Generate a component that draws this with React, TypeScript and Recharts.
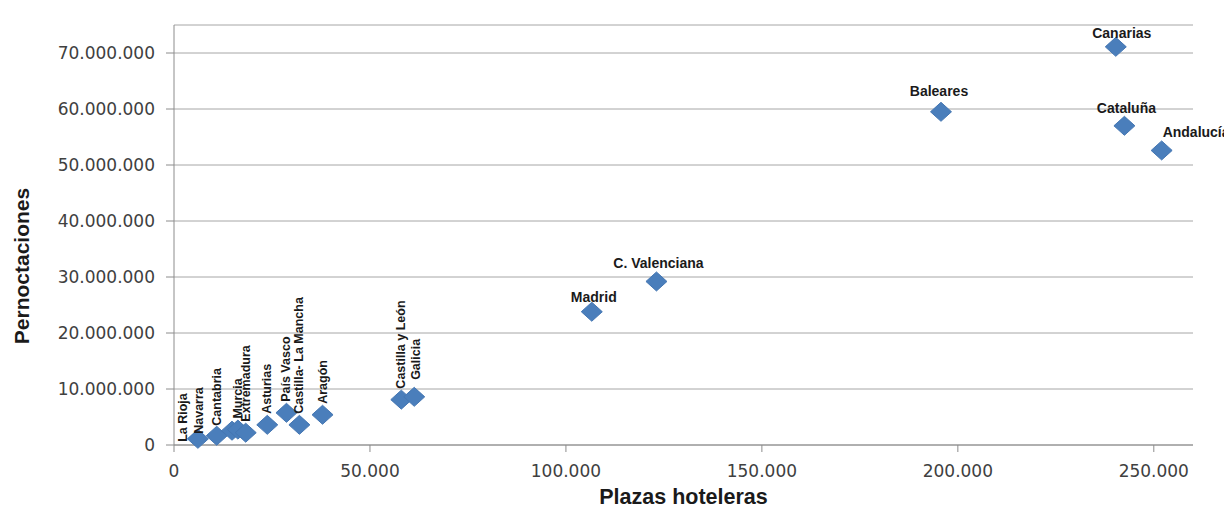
import { CartesianGrid, Scatter, ScatterChart, XAxis, YAxis } from 'recharts';

// Comunidades autónomas: plazas hoteleras vs pernoctaciones
const REGIONS = [
  'La Rioja',
  'Navarra',
  'Cantabria',
  'Murcia',
  'Extremadura',
  'Asturias',
  'País Vasco',
  'Castilla- La Mancha',
  'Aragón',
  'Castilla y León',
  'Galicia',
  'Madrid',
  'C. Valenciana',
  'Baleares',
  'Canarias',
  'Cataluña',
  'Andalucía',
];

const PLAZAS = [
  6100, 10900, 14800, 16300, 18300, 23800, 28700, 32000, 37900, 58000, 61300, 106600, 123100,
  195700, 240300, 242500, 252000,
];

const PERNOCTACIONES = [
  1100000, 1650000, 2550000, 2750000, 2200000, 3600000, 5750000, 3600000, 5400000, 8100000,
  8600000, 23800000, 29200000, 59500000, 71100000, 57000000, 52600000,
];

const X_TICKS = [0, 50000, 100000, 150000, 200000, 250000];
const Y_TICKS = [0, 10000000, 20000000, 30000000, 40000000, 50000000, 60000000, 70000000];

// labels moved by hand in the original chart
const LABEL_NUDGE: Record<string, { dx: number; dy: number }> = {
  'La Rioja': { dx: -15, dy: 14 },
  Navarra: { dx: -18, dy: 9 },
  Cantabria: { dx: -15, dy: 6 },
  Galicia: { dx: 2, dy: -6 },
  Canarias: { dx: 4, dy: 4 },
  Madrid: { dx: 0, dy: 3 },
  Baleares: { dx: -4, dy: -3 },
};

const data = REGIONS.map((name, i) => ({
  name,
  plazas: PLAZAS[i],
  pernoctaciones: PERNOCTACIONES[i],
}));

const fmt = (v: number) => v.toLocaleString('de-DE');

const LABEL_FONT = '"Liberation Sans", Arial, sans-serif';
const TICK_FONT = '"DejaVu Sans", Verdana, sans-serif';

function Diamond(props: any) {
  const { cx, cy, payload } = props;
  if (cx == null || cy == null) return null;
  const name: string = payload.name;
  const rotated = payload.plazas < 70000;
  const nudge = LABEL_NUDGE[name] ?? { dx: 0, dy: 0 };
  let label;
  if (rotated) {
    const lx = cx + nudge.dx;
    const ly = cy - 11 + nudge.dy;
    label = (
      <text
        x={lx}
        y={ly}
        transform={`rotate(-90, ${lx}, ${ly})`}
        textAnchor="start"
        dominantBaseline="central"
        fontFamily={LABEL_FONT}
        fontWeight="bold"
        fontSize={12.5}
        fill="#1a1a1a"
      >
        {name}
      </text>
    );
  } else {
    const start = name === 'Andalucía';
    label = (
      <text
        x={(start ? cx + 1 : cx + 2) + nudge.dx}
        y={cy - 13 + nudge.dy}
        textAnchor={start ? 'start' : 'middle'}
        fontFamily={LABEL_FONT}
        fontWeight="bold"
        fontSize={14}
        fill="#1a1a1a"
      >
        {name}
      </text>
    );
  }
  return (
    <g>
      <polygon
        points={`${cx},${cy - 9.5} ${cx + 10.5},${cy} ${cx},${cy + 9.5} ${cx - 10.5},${cy}`}
        fill="#4a7ebb"
        stroke="#4577b3"
        strokeWidth={1}
      />
      {label}
    </g>
  );
}

function XTitle(props: any) {
  const vb = props.viewBox;
  return (
    <text
      x={vb.x + vb.width / 2}
      y={vb.y + 59}
      textAnchor="middle"
      fontFamily={LABEL_FONT}
      fontWeight="bold"
      fontSize={21.5}
      fill="#1a1a1a"
    >
      Plazas hoteleras
    </text>
  );
}

function YTitle(props: any) {
  const vb = props.viewBox;
  const x = 21;
  const y = vb.y + vb.height / 2 + 31;
  return (
    <text
      x={x}
      y={y}
      transform={`rotate(-90, ${x}, ${y})`}
      textAnchor="middle"
      fontFamily={LABEL_FONT}
      fontWeight="bold"
      fontSize={21}
      fill="#1a1a1a"
    >
      Pernoctaciones
    </text>
  );
}

export default function App() {
  return (
    <div style={{ width: 1224, height: 502 }}>
      <ScatterChart
        width={1224}
        height={502}
        margin={{ top: 17, right: 39, left: 0, bottom: 0 }}
      >
        <CartesianGrid vertical={false} stroke="#a6a6a6" strokeWidth={1} />
        <XAxis
          type="number"
          dataKey="plazas"
          domain={[0, 260000]}
          ticks={X_TICKS}
          tickFormatter={fmt}
          height={65}
          tickSize={7}
          tickMargin={13}
          axisLine={{ stroke: '#8c8c8c' }}
          tickLine={{ stroke: '#8c8c8c' }}
          tick={{ fontFamily: TICK_FONT, fontSize: 17, fill: '#404040' }}
          label={<XTitle />}
        />
        <YAxis
          type="number"
          dataKey="pernoctaciones"
          domain={[0, 75000000]}
          ticks={Y_TICKS}
          tickFormatter={fmt}
          width={166}
          tickSize={8}
          tickMargin={11}
          axisLine={{ stroke: '#8c8c8c' }}
          tickLine={{ stroke: '#8c8c8c' }}
          tick={{ fontFamily: TICK_FONT, fontSize: 17, fill: '#404040' }}
          label={<YTitle />}
        />
        <Scatter data={data} fill="#4a7ebb" shape={Diamond} isAnimationActive={false} />
      </ScatterChart>
    </div>
  );
}
